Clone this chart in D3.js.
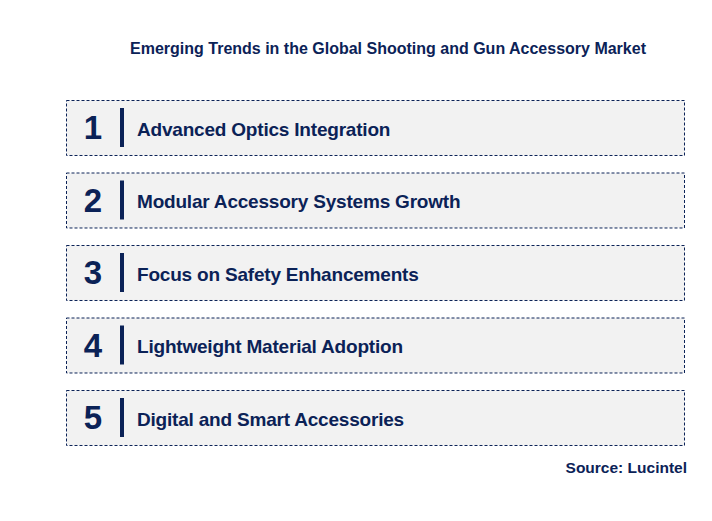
<!DOCTYPE html>
<html><head><meta charset="utf-8">
<script src="https://cdn.jsdelivr.net/npm/d3@7"></script>
<style>body{margin:0;background:#fff}</style></head>
<body><div id="c"></div>
<script>
const title = "Emerging Trends in the Global Shooting and Gun Accessory Market";
const numbers = ["1","2","3","4","5"];
const trends = ["Advanced Optics Integration","Modular Accessory Systems Growth","Focus on Safety Enhancements","Lightweight Material Adoption","Digital and Smart Accessories"];
const source = "Source: Lucintel";

const W=712,H=521, navy="#0b2257";
const svg=d3.select("#c").append("svg").attr("width",W).attr("height",H).style("font-family","Arial, Liberation Sans, sans-serif");
svg.append("text").attr("x",388).attr("y",54).attr("text-anchor","middle").attr("font-size",16).attr("font-weight","bold").attr("fill",navy).text(title);
const y=d3.scaleBand().domain(numbers).range([100,445]).paddingInner(0.2414).paddingOuter(0);
const g=svg.selectAll("g.item").data(numbers).join("g").attr("transform",d=>`translate(0,${y(d)})`);
const b=y.bandwidth();
g.append("rect").attr("x",66.5).attr("y",0.5).attr("width",618).attr("height",b).attr("fill","#f2f2f2").attr("stroke",navy).attr("stroke-width",1).attr("stroke-dasharray","3,2");
g.append("text").attr("x",93).attr("y",b/2+12).attr("text-anchor","middle").attr("font-size",33).attr("font-weight","bold").attr("fill",navy).text(d=>d);
g.append("rect").attr("x",120).attr("y",8).attr("width",4).attr("height",b-16).attr("fill",navy);
g.append("text").attr("x",137).attr("y",b/2+8.5).attr("font-size",19).attr("font-weight","bold").attr("fill",navy).attr("letter-spacing",-0.2).text((d,i)=>trends[i]);
svg.append("text").attr("x",687).attr("y",473).attr("text-anchor","end").attr("font-size",15.5).attr("font-weight","bold").attr("fill",navy).text(source);
</script></body></html>
